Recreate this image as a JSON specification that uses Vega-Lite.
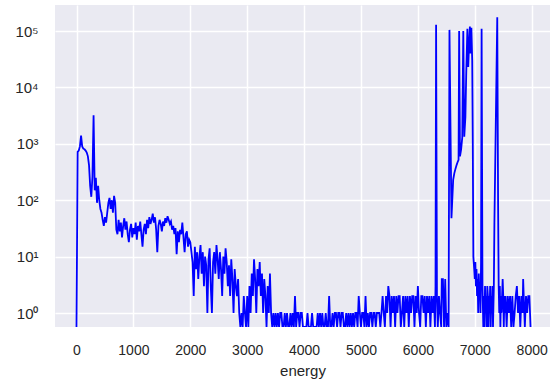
{
"$schema":"https://vega.github.io/schema/vega-lite/v6.json",
"width":495,"height":322,
"autosize":{"type":"none"},
"padding":{"left":55,"top":5,"right":0,"bottom":58},
"background":"white",
"config":{"view":{"fill":"#EAEAF2","stroke":null},"font":"Liberation Sans"},
"data":{"values":[
{"energy":0,"counts":0},{"energy":20,"counts":720},{"energy":40,"counts":760},{"energy":60,"counts":900},{"energy":80,"counts":1400},{"energy":100,"counts":900},{"energy":120,"counts":820},{"energy":140,"counts":800},{"energy":160,"counts":760},{"energy":180,"counts":700},{"energy":200,"counts":600},{"energy":220,"counts":420},{"energy":240,"counts":180},{"energy":260,"counts":115},{"energy":280,"counts":260},{"energy":300,"counts":3200},{"energy":320,"counts":150},{"energy":340,"counts":250},{"energy":360,"counts":90},{"energy":380,"counts":180},{"energy":400,"counts":100},{"energy":420,"counts":70},{"energy":440,"counts":60},{"energy":460,"counts":45},{"energy":480,"counts":35},{"energy":500,"counts":50},{"energy":520,"counts":40},{"energy":540,"counts":60},{"energy":560,"counts":90},{"energy":580,"counts":110},{"energy":600,"counts":70},{"energy":620,"counts":100},{"energy":640,"counts":60},{"energy":660,"counts":120},{"energy":680,"counts":90},{"energy":700,"counts":30},
{"energy":720,"counts":25},{"energy":740,"counts":45},{"energy":760,"counts":28},{"energy":780,"counts":40},{"energy":800,"counts":22},{"energy":820,"counts":35},{"energy":840,"counts":48},{"energy":860,"counts":30},{"energy":880,"counts":42},{"energy":900,"counts":25},{"energy":920,"counts":18},{"energy":940,"counts":30},{"energy":960,"counts":38},{"energy":980,"counts":22},{"energy":1000,"counts":32},
{"energy":1020,"counts":25},{"energy":1040,"counts":40},{"energy":1060,"counts":20},{"energy":1080,"counts":35},{"energy":1100,"counts":28},{"energy":1120,"counts":42},{"energy":1140,"counts":25},{"energy":1160,"counts":15},{"energy":1180,"counts":30},{"energy":1200,"counts":38},{"energy":1220,"counts":25},{"energy":1240,"counts":45},{"energy":1260,"counts":32},{"energy":1280,"counts":50},{"energy":1300,"counts":38},{"energy":1320,"counts":45},{"energy":1340,"counts":58},{"energy":1360,"counts":40},{"energy":1380,"counts":50},{"energy":1400,"counts":30},{"energy":1420,"counts":12},{"energy":1440,"counts":35},{"energy":1460,"counts":45},{"energy":1480,"counts":38},{"energy":1500,"counts":28},{"energy":1520,"counts":42},{"energy":1540,"counts":35},{"energy":1560,"counts":48},{"energy":1580,"counts":40},{"energy":1600,"counts":52},{"energy":1620,"counts":45},{"energy":1640,"counts":38},{"energy":1660,"counts":42},{"energy":1680,"counts":30},{"energy":1700,"counts":35},{"energy":1720,"counts":25},{"energy":1740,"counts":32},{"energy":1760,"counts":11},{"energy":1780,"counts":28},{"energy":1800,"counts":18},{"energy":1820,"counts":30},{"energy":1840,"counts":25},{"energy":1860,"counts":40},{"energy":1880,"counts":22},{"energy":1900,"counts":12},{"energy":1920,"counts":25},{"energy":1940,"counts":28},{"energy":1960,"counts":15},{"energy":1980,"counts":20},{"energy":2000,"counts":18},
{"energy":2020,"counts":12},{"energy":2040,"counts":8},{"energy":2060,"counts":2},{"energy":2080,"counts":15},{"energy":2100,"counts":6},{"energy":2120,"counts":12},{"energy":2140,"counts":4},{"energy":2160,"counts":10},{"energy":2180,"counts":16},{"energy":2200,"counts":5},{"energy":2220,"counts":12},{"energy":2240,"counts":3},{"energy":2260,"counts":10},{"energy":2280,"counts":7},{"energy":2300,"counts":1},{"energy":2320,"counts":9},{"energy":2340,"counts":14},{"energy":2360,"counts":3},{"energy":2380,"counts":1},{"energy":2400,"counts":8},{"energy":2420,"counts":12},{"energy":2440,"counts":5},{"energy":2460,"counts":16},{"energy":2480,"counts":9},{"energy":2500,"counts":4},{"energy":2520,"counts":12},{"energy":2540,"counts":6},{"energy":2560,"counts":2},{"energy":2580,"counts":10},{"energy":2600,"counts":5},{"energy":2620,"counts":14},{"energy":2640,"counts":8},{"energy":2660,"counts":3},{"energy":2680,"counts":7},{"energy":2700,"counts":2},{"energy":2720,"counts":9},{"energy":2740,"counts":4},{"energy":2760,"counts":1},{"energy":2780,"counts":6},{"energy":2800,"counts":3},{"energy":2820,"counts":2},{"energy":2840,"counts":4},{"energy":2860,"counts":1},{"energy":2880,"counts":0},{"energy":2900,"counts":1},
{"energy":2920,"counts":0},{"energy":2940,"counts":2},{"energy":2960,"counts":1},{"energy":2980,"counts":0},{"energy":3000,"counts":2},{"energy":3020,"counts":0},{"energy":3040,"counts":3},{"energy":3060,"counts":1},{"energy":3080,"counts":5},{"energy":3100,"counts":2},{"energy":3120,"counts":9},{"energy":3140,"counts":4},{"energy":3160,"counts":1},{"energy":3180,"counts":6},{"energy":3200,"counts":3},{"energy":3220,"counts":8},{"energy":3240,"counts":2},{"energy":3260,"counts":5},{"energy":3280,"counts":1},{"energy":3300,"counts":4},{"energy":3320,"counts":2},{"energy":3340,"counts":0},{"energy":3360,"counts":3},{"energy":3380,"counts":1},{"energy":3400,"counts":5},{"energy":3420,"counts":1},{"energy":3440,"counts":0},{"energy":3460,"counts":1},{"energy":3480,"counts":0},{"energy":3500,"counts":1},
{"energy":3520,"counts":0},{"energy":3540,"counts":1},{"energy":3560,"counts":0},{"energy":3580,"counts":1},{"energy":3600,"counts":1},{"energy":3620,"counts":0},{"energy":3640,"counts":0},{"energy":3660,"counts":1},{"energy":3680,"counts":0},{"energy":3700,"counts":1},{"energy":3720,"counts":0},{"energy":3740,"counts":0},{"energy":3760,"counts":1},{"energy":3780,"counts":0},{"energy":3800,"counts":1},{"energy":3820,"counts":0},{"energy":3840,"counts":2},{"energy":3860,"counts":0},{"energy":3880,"counts":1},{"energy":3900,"counts":1},{"energy":3920,"counts":0},{"energy":3940,"counts":1},{"energy":3960,"counts":1},{"energy":3980,"counts":0},{"energy":4000,"counts":0},{"energy":4020,"counts":0},{"energy":4040,"counts":0},{"energy":4060,"counts":1},{"energy":4080,"counts":0},{"energy":4100,"counts":0},{"energy":4120,"counts":0},{"energy":4140,"counts":1},{"energy":4160,"counts":0},{"energy":4180,"counts":0},{"energy":4200,"counts":0},{"energy":4220,"counts":0},{"energy":4240,"counts":1},{"energy":4260,"counts":0},{"energy":4280,"counts":1},{"energy":4300,"counts":0},{"energy":4320,"counts":1},{"energy":4340,"counts":0},{"energy":4360,"counts":0},{"energy":4380,"counts":1},{"energy":4400,"counts":0},{"energy":4420,"counts":0},{"energy":4440,"counts":2},{"energy":4460,"counts":0},{"energy":4480,"counts":0},{"energy":4500,"counts":1},{"energy":4520,"counts":0},{"energy":4540,"counts":1},{"energy":4560,"counts":1},{"energy":4580,"counts":0},{"energy":4600,"counts":1},{"energy":4620,"counts":1},{"energy":4640,"counts":0},{"energy":4660,"counts":1},{"energy":4680,"counts":1},{"energy":4700,"counts":0},{"energy":4720,"counts":0},{"energy":4740,"counts":1},{"energy":4760,"counts":0},{"energy":4780,"counts":1},{"energy":4800,"counts":0},{"energy":4820,"counts":1},{"energy":4840,"counts":0},{"energy":4860,"counts":1},{"energy":4880,"counts":0},{"energy":4900,"counts":1},{"energy":4920,"counts":1},{"energy":4940,"counts":0},{"energy":4960,"counts":2},{"energy":4980,"counts":1},{"energy":5000,"counts":0},{"energy":5020,"counts":1},{"energy":5040,"counts":1},{"energy":5060,"counts":0},{"energy":5080,"counts":2},{"energy":5100,"counts":0},{"energy":5120,"counts":1},{"energy":5140,"counts":0},{"energy":5160,"counts":1},{"energy":5180,"counts":1},{"energy":5200,"counts":0},{"energy":5220,"counts":1},{"energy":5240,"counts":1},{"energy":5260,"counts":0},{"energy":5280,"counts":1},{"energy":5300,"counts":1},{"energy":5320,"counts":1},{"energy":5340,"counts":0},{"energy":5360,"counts":1},{"energy":5380,"counts":2},{"energy":5400,"counts":1},{"energy":5420,"counts":0},{"energy":5440,"counts":2},{"energy":5460,"counts":1},{"energy":5480,"counts":3},{"energy":5500,"counts":2},{"energy":5520,"counts":0},{"energy":5540,"counts":2},{"energy":5560,"counts":1},{"energy":5580,"counts":2},{"energy":5600,"counts":0},{"energy":5620,"counts":2},{"energy":5640,"counts":1},{"energy":5660,"counts":2},{"energy":5680,"counts":2},{"energy":5700,"counts":0},{"energy":5720,"counts":1},{"energy":5740,"counts":2},{"energy":5760,"counts":0},{"energy":5780,"counts":2},{"energy":5800,"counts":1},{"energy":5820,"counts":2},{"energy":5840,"counts":0},{"energy":5860,"counts":2},{"energy":5880,"counts":1},{"energy":5900,"counts":2},{"energy":5920,"counts":2},{"energy":5940,"counts":0},{"energy":5960,"counts":2},{"energy":5980,"counts":1},{"energy":6000,"counts":3},{"energy":6020,"counts":1},{"energy":6040,"counts":0},{"energy":6060,"counts":2},{"energy":6080,"counts":2},{"energy":6100,"counts":1},{"energy":6120,"counts":2},{"energy":6140,"counts":0},{"energy":6160,"counts":2},{"energy":6180,"counts":1},{"energy":6200,"counts":2},{"energy":6220,"counts":0},{"energy":6240,"counts":2},{"energy":6260,"counts":1},{"energy":6280,"counts":2},{"energy":6300,"counts":0},
{"energy":6310,"counts":3},{"energy":6320,"counts":130000},{"energy":6335,"counts":2},{"energy":6350,"counts":0},{"energy":6370,"counts":2},{"energy":6390,"counts":1},{"energy":6410,"counts":0},{"energy":6420,"counts":4},{"energy":6440,"counts":4},{"energy":6460,"counts":0},{"energy":6480,"counts":4},{"energy":6500,"counts":0},{"energy":6520,"counts":1},{"energy":6540,"counts":0},{"energy":6555,"counts":105000},{"energy":6590,"counts":48},{"energy":6600,"counts":80},{"energy":6620,"counts":230},{"energy":6640,"counts":300},{"energy":6660,"counts":360},{"energy":6680,"counts":420},{"energy":6700,"counts":480},{"energy":6715,"counts":520},{"energy":6725,"counts":100000},{"energy":6740,"counts":600},{"energy":6760,"counts":800},{"energy":6780,"counts":1300},{"energy":6798,"counts":100000},{"energy":6815,"counts":1340},{"energy":6835,"counts":3000},{"energy":6850,"counts":18000},{"energy":6870,"counts":110000},{"energy":6885,"counts":23000},{"energy":6900,"counts":60000},{"energy":6914,"counts":120000},{"energy":6925,"counts":40000},{"energy":6940,"counts":115000},{"energy":6955,"counts":30000},{"energy":6965,"counts":1000},{"energy":6975,"counts":10},{"energy":6990,"counts":6},{"energy":7000,"counts":4},{"energy":7010,"counts":8},{"energy":7020,"counts":3},{"energy":7030,"counts":6},{"energy":7040,"counts":2},{"energy":7050,"counts":4},{"energy":7060,"counts":1},{"energy":7070,"counts":5},{"energy":7080,"counts":2},{"energy":7090,"counts":3},{"energy":7100,"counts":1},{"energy":7110,"counts":8},{"energy":7120,"counts":110000},{"energy":7135,"counts":3},{"energy":7150,"counts":0},{"energy":7160,"counts":2},{"energy":7170,"counts":0},{"energy":7180,"counts":3},{"energy":7190,"counts":1},{"energy":7200,"counts":2},{"energy":7210,"counts":0},{"energy":7220,"counts":3},{"energy":7230,"counts":2},{"energy":7240,"counts":0},{"energy":7250,"counts":2},{"energy":7260,"counts":1},{"energy":7270,"counts":3},{"energy":7280,"counts":0},{"energy":7290,"counts":2},{"energy":7300,"counts":1},{"energy":7310,"counts":3},{"energy":7320,"counts":0},{"energy":7335,"counts":3},{"energy":7345,"counts":40},{"energy":7395,"counts":175000},{"energy":7410,"counts":80},{"energy":7420,"counts":3},{"energy":7430,"counts":1},{"energy":7440,"counts":3},{"energy":7450,"counts":0},{"energy":7460,"counts":2},{"energy":7470,"counts":1},{"energy":7480,"counts":2},{"energy":7490,"counts":4},{"energy":7500,"counts":2},{"energy":7510,"counts":0},{"energy":7520,"counts":2},{"energy":7530,"counts":1},{"energy":7540,"counts":2},{"energy":7560,"counts":0},{"energy":7580,"counts":2},{"energy":7600,"counts":1},{"energy":7620,"counts":2},{"energy":7640,"counts":0},{"energy":7660,"counts":2},{"energy":7680,"counts":0},{"energy":7700,"counts":1},{"energy":7720,"counts":2},{"energy":7740,"counts":3},{"energy":7760,"counts":1},{"energy":7780,"counts":2},{"energy":7800,"counts":0},{"energy":7820,"counts":2},{"energy":7840,"counts":1},{"energy":7850,"counts":4},{"energy":7860,"counts":2},{"energy":7880,"counts":0},{"energy":7900,"counts":2},{"energy":7920,"counts":1},{"energy":7940,"counts":2},{"energy":7960,"counts":2},{"energy":7980,"counts":0}
]},
"mark":{"type":"line","color":"#0000FF","strokeWidth":1.8,"clip":true,"invalid":"show"},
"encoding":{
"x":{"field":"energy","type":"quantitative","scale":{"domain":[-378,8322],"nice":false,"zero":false},
"axis":{"values":[0,1000,2000,3000,4000,5000,6000,7000,8000],"format":"d","title":"energy","grid":true,"gridColor":"white","gridWidth":1.5,"domain":false,"ticks":false,"tickSize":0,"labelFontSize":14,"labelColor":"#262626","labelPadding":16,"titleFontSize":15,"titleFontWeight":"normal","titleColor":"#262626","titlePadding":6}},
"y":{"field":"counts","type":"quantitative","scale":{"type":"log","domain":[0.565,290000],"nice":false,"clamp":true},
"axis":{"values":[1,10,100,1000,10000,100000],"title":null,"grid":true,"gridColor":"white","gridWidth":1.5,"domain":false,"ticks":false,"tickSize":0,"labelFontSize":15,"labelColor":"#262626","labelPadding":17,"labelExpr":"'10' + ['⁰','¹','²','³','⁴','⁵'][round(log(datum.value)/LN10)]"}}
}
}
